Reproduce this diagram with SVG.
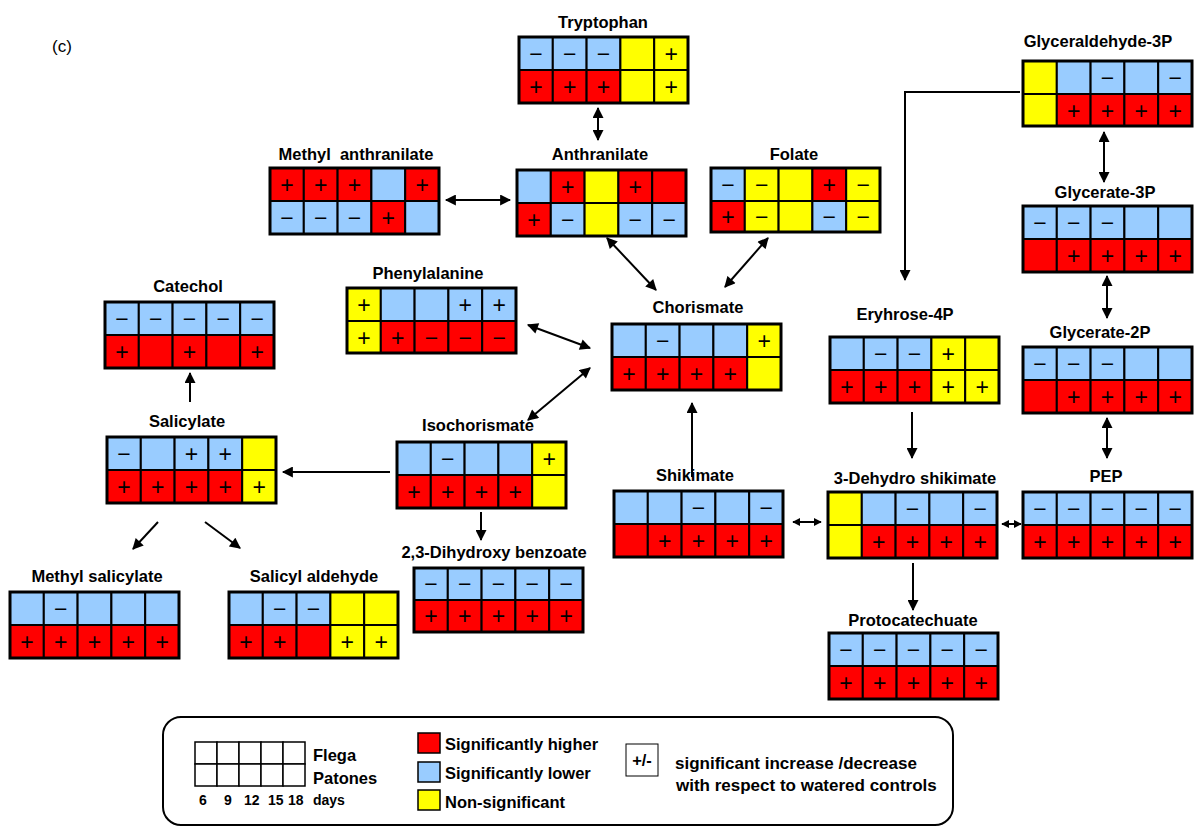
<svg xmlns="http://www.w3.org/2000/svg" width="1202" height="833" viewBox="0 0 1202 833">
<style>
.bg{fill:#fff}
.r{fill:#ff0000;stroke:#000;stroke-width:2}
.b{fill:#99ccff;stroke:#000;stroke-width:2}
.y{fill:#ffff00;stroke:#000;stroke-width:2}
.o{fill:none;stroke:#000;stroke-width:3}
.s{font-family:"Liberation Sans",Arial,sans-serif;font-size:23px;text-anchor:middle;fill:#000}
.lbl{font-family:"Liberation Sans",Arial,sans-serif;font-size:16.5px;font-weight:bold;text-anchor:middle;fill:#000}
.lt{font-family:"Liberation Sans",Arial,sans-serif;font-size:16.5px;font-weight:bold;fill:#000}
.lt2{font-family:"Liberation Sans",Arial,sans-serif;font-size:17px;font-weight:bold;fill:#000}
.sm{font-family:"Liberation Sans",Arial,sans-serif;font-size:14px;font-weight:bold;fill:#000}
.c line,.c polyline{stroke:#000;stroke-width:2;fill:none}
</style>
<defs>
<marker id="ah" viewBox="0 0 10 10" refX="9" refY="5" markerWidth="12" markerHeight="11" markerUnits="userSpaceOnUse" orient="auto-start-reverse"><path d="M0,0 L10,5 L0,10 z" fill="#000"/></marker>
<marker id="as" viewBox="0 0 10 10" refX="9" refY="5" markerWidth="8" markerHeight="9" markerUnits="userSpaceOnUse" orient="auto-start-reverse"><path d="M0,0 L10,5 L0,10 z" fill="#000"/></marker>
</defs>
<rect class="bg" x="0" y="0" width="1202" height="833"/>
<text x="52" y="52" font-family="Liberation Sans, Arial, sans-serif" font-size="17">(c)</text>

<g id="tryptophan">
<text class="lbl" x="603" y="28">Tryptophan</text>
<g transform="translate(519,37)">
<rect class="b" x="0" y="0" width="33.8" height="33"/><rect class="b" x="33.8" y="0" width="33.8" height="33"/><rect class="b" x="67.6" y="0" width="33.8" height="33"/><rect class="y" x="101.4" y="0" width="33.8" height="33"/><rect class="y" x="135.2" y="0" width="33.8" height="33"/>
<rect class="r" x="0" y="33" width="33.8" height="33"/><rect class="r" x="33.8" y="33" width="33.8" height="33"/><rect class="r" x="67.6" y="33" width="33.8" height="33"/><rect class="y" x="101.4" y="33" width="33.8" height="33"/><rect class="y" x="135.2" y="33" width="33.8" height="33"/>
<rect class="o" x="0" y="0" width="169" height="66"/>
<text class="s" x="16.9" y="25">−</text><text class="s" x="50.7" y="25">−</text><text class="s" x="84.5" y="25">−</text><text class="s" x="152.1" y="25">+</text>
<text class="s" x="16.9" y="58">+</text><text class="s" x="50.7" y="58">+</text><text class="s" x="84.5" y="58">+</text><text class="s" x="152.1" y="58">+</text>
</g>
</g>

<g id="methyl-anthranilate">
<text class="lbl" x="356" y="160" xml:space="preserve">Methyl  anthranilate</text>
<g transform="translate(270,168)">
<rect class="r" x="0" y="0" width="33.8" height="33"/><rect class="r" x="33.8" y="0" width="33.8" height="33"/><rect class="r" x="67.6" y="0" width="33.8" height="33"/><rect class="b" x="101.4" y="0" width="33.8" height="33"/><rect class="r" x="135.2" y="0" width="33.8" height="33"/>
<rect class="b" x="0" y="33" width="33.8" height="33"/><rect class="b" x="33.8" y="33" width="33.8" height="33"/><rect class="b" x="67.6" y="33" width="33.8" height="33"/><rect class="r" x="101.4" y="33" width="33.8" height="33"/><rect class="b" x="135.2" y="33" width="33.8" height="33"/>
<rect class="o" x="0" y="0" width="169" height="66"/>
<text class="s" x="16.9" y="25">+</text><text class="s" x="50.7" y="25">+</text><text class="s" x="84.5" y="25">+</text><text class="s" x="152.1" y="25">+</text>
<text class="s" x="16.9" y="58">−</text><text class="s" x="50.7" y="58">−</text><text class="s" x="84.5" y="58">−</text><text class="s" x="118.3" y="58">+</text>
</g>
</g>

<g id="anthranilate">
<text class="lbl" x="600" y="160">Anthranilate</text>
<g transform="translate(517,170)">
<rect class="b" x="0" y="0" width="33.8" height="33"/><rect class="r" x="33.8" y="0" width="33.8" height="33"/><rect class="y" x="67.6" y="0" width="33.8" height="33"/><rect class="r" x="101.4" y="0" width="33.8" height="33"/><rect class="r" x="135.2" y="0" width="33.8" height="33"/>
<rect class="r" x="0" y="33" width="33.8" height="33"/><rect class="b" x="33.8" y="33" width="33.8" height="33"/><rect class="y" x="67.6" y="33" width="33.8" height="33"/><rect class="b" x="101.4" y="33" width="33.8" height="33"/><rect class="b" x="135.2" y="33" width="33.8" height="33"/>
<rect class="o" x="0" y="0" width="169" height="66"/>
<text class="s" x="50.7" y="25">+</text><text class="s" x="118.3" y="25">+</text>
<text class="s" x="16.9" y="58">+</text><text class="s" x="50.7" y="58">−</text><text class="s" x="118.3" y="58">−</text><text class="s" x="152.1" y="58">−</text>
</g>
</g>

<g id="folate">
<text class="lbl" x="794" y="160">Folate</text>
<g transform="translate(711,168)">
<rect class="b" x="0" y="0" width="33.8" height="33"/><rect class="y" x="33.8" y="0" width="33.8" height="33"/><rect class="y" x="67.6" y="0" width="33.8" height="33"/><rect class="r" x="101.4" y="0" width="33.8" height="33"/><rect class="y" x="135.2" y="0" width="33.8" height="33"/>
<rect class="r" x="0" y="33" width="33.8" height="31"/><rect class="y" x="33.8" y="33" width="33.8" height="31"/><rect class="y" x="67.6" y="33" width="33.8" height="31"/><rect class="b" x="101.4" y="33" width="33.8" height="31"/><rect class="y" x="135.2" y="33" width="33.8" height="31"/>
<rect class="o" x="0" y="0" width="169" height="64"/>
<text class="s" x="16.9" y="25">−</text><text class="s" x="50.7" y="25">−</text><text class="s" x="118.3" y="25">+</text><text class="s" x="152.1" y="25">−</text>
<text class="s" x="16.9" y="57">+</text><text class="s" x="50.7" y="57">−</text><text class="s" x="118.3" y="57">−</text><text class="s" x="152.1" y="57">−</text>
</g>
</g>

<g id="glyceraldehyde-3p">
<text class="lbl" x="1098" y="47">Glyceraldehyde-3P</text>
<g transform="translate(1023,61)">
<rect class="y" x="0" y="0" width="33.8" height="33"/><rect class="b" x="33.8" y="0" width="33.8" height="33"/><rect class="b" x="67.6" y="0" width="33.8" height="33"/><rect class="b" x="101.4" y="0" width="33.8" height="33"/><rect class="b" x="135.2" y="0" width="33.8" height="33"/>
<rect class="y" x="0" y="33" width="33.8" height="32"/><rect class="r" x="33.8" y="33" width="33.8" height="32"/><rect class="r" x="67.6" y="33" width="33.8" height="32"/><rect class="r" x="101.4" y="33" width="33.8" height="32"/><rect class="r" x="135.2" y="33" width="33.8" height="32"/>
<rect class="o" x="0" y="0" width="169" height="65"/>
<text class="s" x="84.5" y="25">−</text><text class="s" x="152.1" y="25">−</text>
<text class="s" x="50.7" y="58">+</text><text class="s" x="84.5" y="58">+</text><text class="s" x="118.3" y="58">+</text><text class="s" x="152.1" y="58">+</text>
</g>
</g>

<g id="glycerate-3p">
<text class="lbl" x="1105" y="198">Glycerate-3P</text>
<g transform="translate(1023,206)">
<rect class="b" x="0" y="0" width="33.8" height="33"/><rect class="b" x="33.8" y="0" width="33.8" height="33"/><rect class="b" x="67.6" y="0" width="33.8" height="33"/><rect class="b" x="101.4" y="0" width="33.8" height="33"/><rect class="b" x="135.2" y="0" width="33.8" height="33"/>
<rect class="r" x="0" y="33" width="33.8" height="33"/><rect class="r" x="33.8" y="33" width="33.8" height="33"/><rect class="r" x="67.6" y="33" width="33.8" height="33"/><rect class="r" x="101.4" y="33" width="33.8" height="33"/><rect class="r" x="135.2" y="33" width="33.8" height="33"/>
<rect class="o" x="0" y="0" width="169" height="66"/>
<text class="s" x="16.9" y="25">−</text><text class="s" x="50.7" y="25">−</text><text class="s" x="84.5" y="25">−</text>
<text class="s" x="50.7" y="58">+</text><text class="s" x="84.5" y="58">+</text><text class="s" x="118.3" y="58">+</text><text class="s" x="152.1" y="58">+</text>
</g>
</g>

<g id="glycerate-2p">
<text class="lbl" x="1100" y="338">Glycerate-2P</text>
<g transform="translate(1023,347)">
<rect class="b" x="0" y="0" width="33.8" height="33"/><rect class="b" x="33.8" y="0" width="33.8" height="33"/><rect class="b" x="67.6" y="0" width="33.8" height="33"/><rect class="b" x="101.4" y="0" width="33.8" height="33"/><rect class="b" x="135.2" y="0" width="33.8" height="33"/>
<rect class="r" x="0" y="33" width="33.8" height="33"/><rect class="r" x="33.8" y="33" width="33.8" height="33"/><rect class="r" x="67.6" y="33" width="33.8" height="33"/><rect class="r" x="101.4" y="33" width="33.8" height="33"/><rect class="r" x="135.2" y="33" width="33.8" height="33"/>
<rect class="o" x="0" y="0" width="169" height="66"/>
<text class="s" x="16.9" y="25">−</text><text class="s" x="50.7" y="25">−</text><text class="s" x="84.5" y="25">−</text>
<text class="s" x="50.7" y="58">+</text><text class="s" x="84.5" y="58">+</text><text class="s" x="118.3" y="58">+</text><text class="s" x="152.1" y="58">+</text>
</g>
</g>

<g id="catechol">
<text class="lbl" x="188" y="292">Catechol</text>
<g transform="translate(105,302)">
<rect class="b" x="0" y="0" width="33.8" height="33"/><rect class="b" x="33.8" y="0" width="33.8" height="33"/><rect class="b" x="67.6" y="0" width="33.8" height="33"/><rect class="b" x="101.4" y="0" width="33.8" height="33"/><rect class="b" x="135.2" y="0" width="33.8" height="33"/>
<rect class="r" x="0" y="33" width="33.8" height="33"/><rect class="r" x="33.8" y="33" width="33.8" height="33"/><rect class="r" x="67.6" y="33" width="33.8" height="33"/><rect class="r" x="101.4" y="33" width="33.8" height="33"/><rect class="r" x="135.2" y="33" width="33.8" height="33"/>
<rect class="o" x="0" y="0" width="169" height="66"/>
<text class="s" x="16.9" y="25">−</text><text class="s" x="50.7" y="25">−</text><text class="s" x="84.5" y="25">−</text><text class="s" x="118.3" y="25">−</text><text class="s" x="152.1" y="25">−</text>
<text class="s" x="16.9" y="58">+</text><text class="s" x="84.5" y="58">+</text><text class="s" x="152.1" y="58">+</text>
</g>
</g>

<g id="phenylalanine">
<text class="lbl" x="428" y="279">Phenylalanine</text>
<g transform="translate(347,288)">
<rect class="y" x="0" y="0" width="33.8" height="33"/><rect class="b" x="33.8" y="0" width="33.8" height="33"/><rect class="b" x="67.6" y="0" width="33.8" height="33"/><rect class="b" x="101.4" y="0" width="33.8" height="33"/><rect class="b" x="135.2" y="0" width="33.8" height="33"/>
<rect class="y" x="0" y="33" width="33.8" height="32"/><rect class="r" x="33.8" y="33" width="33.8" height="32"/><rect class="r" x="67.6" y="33" width="33.8" height="32"/><rect class="r" x="101.4" y="33" width="33.8" height="32"/><rect class="r" x="135.2" y="33" width="33.8" height="32"/>
<rect class="o" x="0" y="0" width="169" height="65"/>
<text class="s" x="16.9" y="25">+</text><text class="s" x="118.3" y="25">+</text><text class="s" x="152.1" y="25">+</text>
<text class="s" x="16.9" y="58">+</text><text class="s" x="50.7" y="58">+</text><text class="s" x="84.5" y="58">−</text><text class="s" x="118.3" y="58">−</text><text class="s" x="152.1" y="58">−</text>
</g>
</g>

<g id="chorismate">
<text class="lbl" x="698" y="313">Chorismate</text>
<g transform="translate(612,324)">
<rect class="b" x="0" y="0" width="33.8" height="33"/><rect class="b" x="33.8" y="0" width="33.8" height="33"/><rect class="b" x="67.6" y="0" width="33.8" height="33"/><rect class="b" x="101.4" y="0" width="33.8" height="33"/><rect class="y" x="135.2" y="0" width="33.8" height="33"/>
<rect class="r" x="0" y="33" width="33.8" height="33"/><rect class="r" x="33.8" y="33" width="33.8" height="33"/><rect class="r" x="67.6" y="33" width="33.8" height="33"/><rect class="r" x="101.4" y="33" width="33.8" height="33"/><rect class="y" x="135.2" y="33" width="33.8" height="33"/>
<rect class="o" x="0" y="0" width="169" height="66"/>
<text class="s" x="50.7" y="25">−</text><text class="s" x="152.1" y="25">+</text>
<text class="s" x="16.9" y="58">+</text><text class="s" x="50.7" y="58">+</text><text class="s" x="84.5" y="58">+</text><text class="s" x="118.3" y="58">+</text>
</g>
</g>

<g id="eryhrose-4p">
<text class="lbl" x="905" y="320">Eryhrose-4P</text>
<g transform="translate(830,337)">
<rect class="b" x="0" y="0" width="33.8" height="33"/><rect class="b" x="33.8" y="0" width="33.8" height="33"/><rect class="b" x="67.6" y="0" width="33.8" height="33"/><rect class="y" x="101.4" y="0" width="33.8" height="33"/><rect class="y" x="135.2" y="0" width="33.8" height="33"/>
<rect class="r" x="0" y="33" width="33.8" height="33"/><rect class="r" x="33.8" y="33" width="33.8" height="33"/><rect class="r" x="67.6" y="33" width="33.8" height="33"/><rect class="y" x="101.4" y="33" width="33.8" height="33"/><rect class="y" x="135.2" y="33" width="33.8" height="33"/>
<rect class="o" x="0" y="0" width="169" height="66"/>
<text class="s" x="50.7" y="25">−</text><text class="s" x="84.5" y="25">−</text><text class="s" x="118.3" y="25">+</text>
<text class="s" x="16.9" y="58">+</text><text class="s" x="50.7" y="58">+</text><text class="s" x="84.5" y="58">+</text><text class="s" x="118.3" y="58">+</text><text class="s" x="152.1" y="58">+</text>
</g>
</g>

<g id="salicylate">
<text class="lbl" x="187" y="427">Salicylate</text>
<g transform="translate(107,437)">
<rect class="b" x="0" y="0" width="33.8" height="33"/><rect class="b" x="33.8" y="0" width="33.8" height="33"/><rect class="b" x="67.6" y="0" width="33.8" height="33"/><rect class="b" x="101.4" y="0" width="33.8" height="33"/><rect class="y" x="135.2" y="0" width="33.8" height="33"/>
<rect class="r" x="0" y="33" width="33.8" height="33"/><rect class="r" x="33.8" y="33" width="33.8" height="33"/><rect class="r" x="67.6" y="33" width="33.8" height="33"/><rect class="r" x="101.4" y="33" width="33.8" height="33"/><rect class="y" x="135.2" y="33" width="33.8" height="33"/>
<rect class="o" x="0" y="0" width="169" height="66"/>
<text class="s" x="16.9" y="25">−</text><text class="s" x="84.5" y="25">+</text><text class="s" x="118.3" y="25">+</text>
<text class="s" x="16.9" y="58">+</text><text class="s" x="50.7" y="58">+</text><text class="s" x="84.5" y="58">+</text><text class="s" x="118.3" y="58">+</text><text class="s" x="152.1" y="58">+</text>
</g>
</g>

<g id="isochorismate">
<text class="lbl" x="478" y="431">Isochorismate</text>
<g transform="translate(397,442)">
<rect class="b" x="0" y="0" width="33.8" height="33"/><rect class="b" x="33.8" y="0" width="33.8" height="33"/><rect class="b" x="67.6" y="0" width="33.8" height="33"/><rect class="b" x="101.4" y="0" width="33.8" height="33"/><rect class="y" x="135.2" y="0" width="33.8" height="33"/>
<rect class="r" x="0" y="33" width="33.8" height="33"/><rect class="r" x="33.8" y="33" width="33.8" height="33"/><rect class="r" x="67.6" y="33" width="33.8" height="33"/><rect class="r" x="101.4" y="33" width="33.8" height="33"/><rect class="y" x="135.2" y="33" width="33.8" height="33"/>
<rect class="o" x="0" y="0" width="169" height="66"/>
<text class="s" x="50.7" y="25">−</text><text class="s" x="152.1" y="25">+</text>
<text class="s" x="16.9" y="58">+</text><text class="s" x="50.7" y="58">+</text><text class="s" x="84.5" y="58">+</text><text class="s" x="118.3" y="58">+</text>
</g>
</g>

<g id="shikimate">
<text class="lbl" x="695" y="481">Shikimate</text>
<g transform="translate(614,491)">
<rect class="b" x="0" y="0" width="33.8" height="33"/><rect class="b" x="33.8" y="0" width="33.8" height="33"/><rect class="b" x="67.6" y="0" width="33.8" height="33"/><rect class="b" x="101.4" y="0" width="33.8" height="33"/><rect class="b" x="135.2" y="0" width="33.8" height="33"/>
<rect class="r" x="0" y="33" width="33.8" height="33"/><rect class="r" x="33.8" y="33" width="33.8" height="33"/><rect class="r" x="67.6" y="33" width="33.8" height="33"/><rect class="r" x="101.4" y="33" width="33.8" height="33"/><rect class="r" x="135.2" y="33" width="33.8" height="33"/>
<rect class="o" x="0" y="0" width="169" height="66"/>
<text class="s" x="84.5" y="25">−</text><text class="s" x="152.1" y="25">−</text>
<text class="s" x="50.7" y="58">+</text><text class="s" x="84.5" y="58">+</text><text class="s" x="118.3" y="58">+</text><text class="s" x="152.1" y="58">+</text>
</g>
</g>

<g id="dehydro-shikimate">
<text class="lbl" x="915" y="484">3-Dehydro shikimate</text>
<g transform="translate(828,492)">
<rect class="y" x="0" y="0" width="33.8" height="33"/><rect class="b" x="33.8" y="0" width="33.8" height="33"/><rect class="b" x="67.6" y="0" width="33.8" height="33"/><rect class="b" x="101.4" y="0" width="33.8" height="33"/><rect class="b" x="135.2" y="0" width="33.8" height="33"/>
<rect class="y" x="0" y="33" width="33.8" height="33"/><rect class="r" x="33.8" y="33" width="33.8" height="33"/><rect class="r" x="67.6" y="33" width="33.8" height="33"/><rect class="r" x="101.4" y="33" width="33.8" height="33"/><rect class="r" x="135.2" y="33" width="33.8" height="33"/>
<rect class="o" x="0" y="0" width="169" height="66"/>
<text class="s" x="84.5" y="25">−</text><text class="s" x="152.1" y="25">−</text>
<text class="s" x="50.7" y="58">+</text><text class="s" x="84.5" y="58">+</text><text class="s" x="118.3" y="58">+</text><text class="s" x="152.1" y="58">+</text>
</g>
</g>

<g id="pep">
<text class="lbl" x="1106" y="482">PEP</text>
<g transform="translate(1023,492)">
<rect class="b" x="0" y="0" width="33.8" height="33"/><rect class="b" x="33.8" y="0" width="33.8" height="33"/><rect class="b" x="67.6" y="0" width="33.8" height="33"/><rect class="b" x="101.4" y="0" width="33.8" height="33"/><rect class="b" x="135.2" y="0" width="33.8" height="33"/>
<rect class="r" x="0" y="33" width="33.8" height="33"/><rect class="r" x="33.8" y="33" width="33.8" height="33"/><rect class="r" x="67.6" y="33" width="33.8" height="33"/><rect class="r" x="101.4" y="33" width="33.8" height="33"/><rect class="r" x="135.2" y="33" width="33.8" height="33"/>
<rect class="o" x="0" y="0" width="169" height="66"/>
<text class="s" x="16.9" y="25">−</text><text class="s" x="50.7" y="25">−</text><text class="s" x="84.5" y="25">−</text><text class="s" x="118.3" y="25">−</text><text class="s" x="152.1" y="25">−</text>
<text class="s" x="16.9" y="58">+</text><text class="s" x="50.7" y="58">+</text><text class="s" x="84.5" y="58">+</text><text class="s" x="118.3" y="58">+</text><text class="s" x="152.1" y="58">+</text>
</g>
</g>

<g id="methyl-salicylate">
<text class="lbl" x="97" y="582">Methyl salicylate</text>
<g transform="translate(10,592)">
<rect class="b" x="0" y="0" width="33.8" height="33"/><rect class="b" x="33.8" y="0" width="33.8" height="33"/><rect class="b" x="67.6" y="0" width="33.8" height="33"/><rect class="b" x="101.4" y="0" width="33.8" height="33"/><rect class="b" x="135.2" y="0" width="33.8" height="33"/>
<rect class="r" x="0" y="33" width="33.8" height="33"/><rect class="r" x="33.8" y="33" width="33.8" height="33"/><rect class="r" x="67.6" y="33" width="33.8" height="33"/><rect class="r" x="101.4" y="33" width="33.8" height="33"/><rect class="r" x="135.2" y="33" width="33.8" height="33"/>
<rect class="o" x="0" y="0" width="169" height="66"/>
<text class="s" x="50.7" y="25">−</text>
<text class="s" x="16.9" y="58">+</text><text class="s" x="50.7" y="58">+</text><text class="s" x="84.5" y="58">+</text><text class="s" x="118.3" y="58">+</text><text class="s" x="152.1" y="58">+</text>
</g>
</g>

<g id="salicyl-aldehyde">
<text class="lbl" x="314" y="582">Salicyl aldehyde</text>
<g transform="translate(229,592)">
<rect class="b" x="0" y="0" width="33.8" height="33"/><rect class="b" x="33.8" y="0" width="33.8" height="33"/><rect class="b" x="67.6" y="0" width="33.8" height="33"/><rect class="y" x="101.4" y="0" width="33.8" height="33"/><rect class="y" x="135.2" y="0" width="33.8" height="33"/>
<rect class="r" x="0" y="33" width="33.8" height="33"/><rect class="r" x="33.8" y="33" width="33.8" height="33"/><rect class="r" x="67.6" y="33" width="33.8" height="33"/><rect class="y" x="101.4" y="33" width="33.8" height="33"/><rect class="y" x="135.2" y="33" width="33.8" height="33"/>
<rect class="o" x="0" y="0" width="169" height="66"/>
<text class="s" x="50.7" y="25">−</text><text class="s" x="84.5" y="25">−</text>
<text class="s" x="16.9" y="58">+</text><text class="s" x="50.7" y="58">+</text><text class="s" x="118.3" y="58">+</text><text class="s" x="152.1" y="58">+</text>
</g>
</g>

<g id="dihydroxy-benzoate">
<text class="lbl" x="494" y="558">2,3-Dihydroxy benzoate</text>
<g transform="translate(414,568)">
<rect class="b" x="0" y="0" width="33.8" height="32"/><rect class="b" x="33.8" y="0" width="33.8" height="32"/><rect class="b" x="67.6" y="0" width="33.8" height="32"/><rect class="b" x="101.4" y="0" width="33.8" height="32"/><rect class="b" x="135.2" y="0" width="33.8" height="32"/>
<rect class="r" x="0" y="32" width="33.8" height="32"/><rect class="r" x="33.8" y="32" width="33.8" height="32"/><rect class="r" x="67.6" y="32" width="33.8" height="32"/><rect class="r" x="101.4" y="32" width="33.8" height="32"/><rect class="r" x="135.2" y="32" width="33.8" height="32"/>
<rect class="o" x="0" y="0" width="169" height="64"/>
<text class="s" x="16.9" y="24">−</text><text class="s" x="50.7" y="24">−</text><text class="s" x="84.5" y="24">−</text><text class="s" x="118.3" y="24">−</text><text class="s" x="152.1" y="24">−</text>
<text class="s" x="16.9" y="56">+</text><text class="s" x="50.7" y="56">+</text><text class="s" x="84.5" y="56">+</text><text class="s" x="118.3" y="56">+</text><text class="s" x="152.1" y="56">+</text>
</g>
</g>

<g id="protocatechuate">
<text class="lbl" x="913" y="626">Protocatechuate</text>
<g transform="translate(829,633)">
<rect class="b" x="0" y="0" width="33.8" height="33"/><rect class="b" x="33.8" y="0" width="33.8" height="33"/><rect class="b" x="67.6" y="0" width="33.8" height="33"/><rect class="b" x="101.4" y="0" width="33.8" height="33"/><rect class="b" x="135.2" y="0" width="33.8" height="33"/>
<rect class="r" x="0" y="33" width="33.8" height="33"/><rect class="r" x="33.8" y="33" width="33.8" height="33"/><rect class="r" x="67.6" y="33" width="33.8" height="33"/><rect class="r" x="101.4" y="33" width="33.8" height="33"/><rect class="r" x="135.2" y="33" width="33.8" height="33"/>
<rect class="o" x="0" y="0" width="169" height="66"/>
<text class="s" x="16.9" y="25">−</text><text class="s" x="50.7" y="25">−</text><text class="s" x="84.5" y="25">−</text><text class="s" x="118.3" y="25">−</text><text class="s" x="152.1" y="25">−</text>
<text class="s" x="16.9" y="58">+</text><text class="s" x="50.7" y="58">+</text><text class="s" x="84.5" y="58">+</text><text class="s" x="118.3" y="58">+</text><text class="s" x="152.1" y="58">+</text>
</g>
</g>

<g id="connectors" class="c">
<line x1="598" y1="108" x2="598" y2="140" marker-start="url(#ah)" marker-end="url(#ah)"/>
<line x1="446" y1="200" x2="510" y2="200" marker-start="url(#ah)" marker-end="url(#ah)"/>
<line x1="607" y1="238" x2="656" y2="290" marker-start="url(#ah)" marker-end="url(#ah)"/>
<line x1="768" y1="238" x2="725" y2="287" marker-start="url(#ah)" marker-end="url(#ah)"/>
<line x1="528" y1="325" x2="590" y2="348" marker-start="url(#ah)" marker-end="url(#ah)"/>
<line x1="528" y1="420" x2="590" y2="368" marker-start="url(#ah)" marker-end="url(#ah)"/>
<line x1="692" y1="477" x2="692" y2="403" marker-end="url(#ah)"/>
<line x1="390" y1="472" x2="283" y2="472" marker-end="url(#ah)"/>
<line x1="481" y1="512" x2="481" y2="540" marker-end="url(#ah)"/>
<line x1="190" y1="402" x2="190" y2="373" marker-end="url(#ah)"/>
<line x1="158" y1="522" x2="133" y2="549" marker-end="url(#ah)"/>
<line x1="205" y1="522" x2="240" y2="548" marker-end="url(#ah)"/>
<line x1="793" y1="522" x2="821" y2="522" marker-start="url(#as)" marker-end="url(#as)"/>
<line x1="1002" y1="524" x2="1021" y2="524" marker-start="url(#as)" marker-end="url(#as)"/>
<line x1="912" y1="412" x2="912" y2="458" marker-end="url(#ah)"/>
<line x1="913" y1="563" x2="913" y2="610" marker-end="url(#ah)"/>
<polyline points="1020,92 905,92 905,280" marker-end="url(#ah)"/>
<line x1="1104" y1="132" x2="1104" y2="182" marker-start="url(#ah)" marker-end="url(#ah)"/>
<line x1="1107" y1="276" x2="1107" y2="318" marker-start="url(#ah)" marker-end="url(#ah)"/>
<line x1="1107" y1="418" x2="1107" y2="458" marker-start="url(#ah)" marker-end="url(#ah)"/>
</g>

<g id="legend">
<rect x="163" y="717" width="790" height="108" rx="18" fill="#fff" stroke="#000" stroke-width="2"/>
<g fill="#fff" stroke="#000" stroke-width="1.5">
<rect x="195" y="742" width="22" height="22"/><rect x="217" y="742" width="22" height="22"/><rect x="239" y="742" width="22" height="22"/><rect x="261" y="742" width="22" height="22"/><rect x="283" y="742" width="22" height="22"/>
<rect x="195" y="764" width="22" height="22"/><rect x="217" y="764" width="22" height="22"/><rect x="239" y="764" width="22" height="22"/><rect x="261" y="764" width="22" height="22"/><rect x="283" y="764" width="22" height="22"/>
</g>
<text class="lt" x="313" y="761">Flega</text>
<text class="lt" x="313" y="784">Patones</text>
<text class="sm" x="199" y="805">6</text>
<text class="sm" x="224" y="805">9</text>
<text class="sm" x="244" y="805">12</text>
<text class="sm" x="268" y="805">15</text>
<text class="sm" x="288" y="805">18</text>
<text class="sm" x="313" y="805">days</text>
<rect x="418" y="733" width="22" height="20" fill="#ff0000" stroke="#000" stroke-width="1.5"/>
<rect x="418" y="762" width="22" height="20" fill="#99ccff" stroke="#000" stroke-width="1.5"/>
<rect x="418" y="790" width="22" height="20" fill="#ffff00" stroke="#000" stroke-width="1.5"/>
<text class="lt" x="445" y="750">Significantly higher</text>
<text class="lt" x="445" y="779">Significantly lower</text>
<text class="lt" x="445" y="808">Non-significant</text>
<rect x="626" y="744" width="32" height="32" fill="#fff" stroke="#000" stroke-width="1"/>
<text class="lbl" x="642" y="766">+/-</text>
<text class="lt2" x="675" y="769">significant increase /decrease</text>
<text class="lt2" x="676" y="791">with respect to watered controls</text>
</g>
</svg>
